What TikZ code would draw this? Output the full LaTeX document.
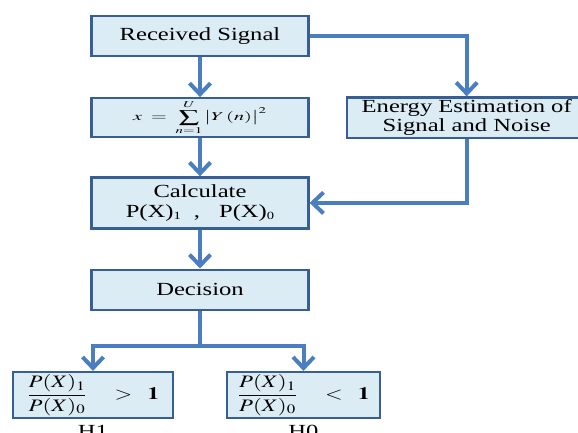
\documentclass[tikz,border=0pt]{standalone}
\usepackage{mathptmx}
\usepackage{fontspec}
\setmainfont{Liberation Serif}[FakeStretch=1.33]
\usepackage{graphicx}
\usetikzlibrary{positioning,arrows.meta}

\definecolor{boxfill}{RGB}{220,236,244}
\definecolor{boxline}{RGB}{55,95,150}
\definecolor{flowline}{RGB}{74,126,192}

\newcommand{\smallsub}[1]{\raisebox{-2pt}{\fontsize{11}{11}\selectfont #1}}

\begin{document}
\begin{tikzpicture}[x=1pt,y=-1pt,->,>={Straight Barb[length=11pt,width=21pt]},
  line width=4pt,draw=flowline,
  block/.style={rectangle,draw=boxline,line width=2.2pt,fill=boxfill,
    minimum width=217pt,minimum height=40pt,inner sep=2pt,align=center,
    font=\fontsize{18.5}{19.5}\selectfont},
  hyp/.style={font=\fontsize{18.5}{19.5}\selectfont,inner sep=1pt}]
   \useasboundingbox (0,0) rectangle (578,432);
   \node[block]                                 (recv)   at (200,36)           {Received Signal};
   \node[block,minimum height=39pt,text height=10pt,text depth=4pt] (sum) [below=40pt of recv]  {\fontsize{13}{14}\selectfont\scalebox{1.55}[0.92]{$x\;=\;\displaystyle\sum_{n=1}^{U}\,\bigl|Y\,(n)\bigr|^{2}$}};
   \node[block,minimum width=240pt,minimum height=39pt] (energy) [right=36pt of sum] {Energy Estimation of\\Signal and Noise};
   \node[block,minimum height=51pt]             (calc)   [below=38pt of sum]   {Calculate\\P(X)\smallsub{1}\hspace{13pt},\hspace{19pt}P(X)\smallsub{0}};
   \node[block]                                 (dec)    [below=39pt of calc]  {Decision};
   \node[block,minimum width=160pt,minimum height=46pt] (h_1) at (93,395)    {\fontsize{17.5}{19}\selectfont\scalebox{1.3}[1]{$\displaystyle\frac{P(X)_1}{P(X)_0}\quad>\;\;\mathbf{1}$}};
   \node[block,minimum width=153pt,minimum height=46pt] (h_0) at (303.5,395) {\fontsize{17.5}{19}\selectfont\scalebox{1.3}[1]{$\displaystyle\frac{P(X)_1}{P(X)_0}\quad<\;\;\mathbf{1}$}};
   \node[hyp]                                   (l_1)    [below=3pt of h_1]    {H1};
   \node[hyp]                                   (l_0)    [below=3pt of h_0]    {H0};
    \path[->]
    (recv) edge (sum)
    (sum)  edge (calc)
    (calc) edge (dec);
    \draw (recv.east) -| (energy.north);
    \draw (energy.south) |- (calc.east);
    \draw[-] (dec.south) -- ++(0,35) coordinate (split);
    \draw (split) -| (h_1.north);
    \draw (split) -| (h_0.north);
\end{tikzpicture}
\end{document}
